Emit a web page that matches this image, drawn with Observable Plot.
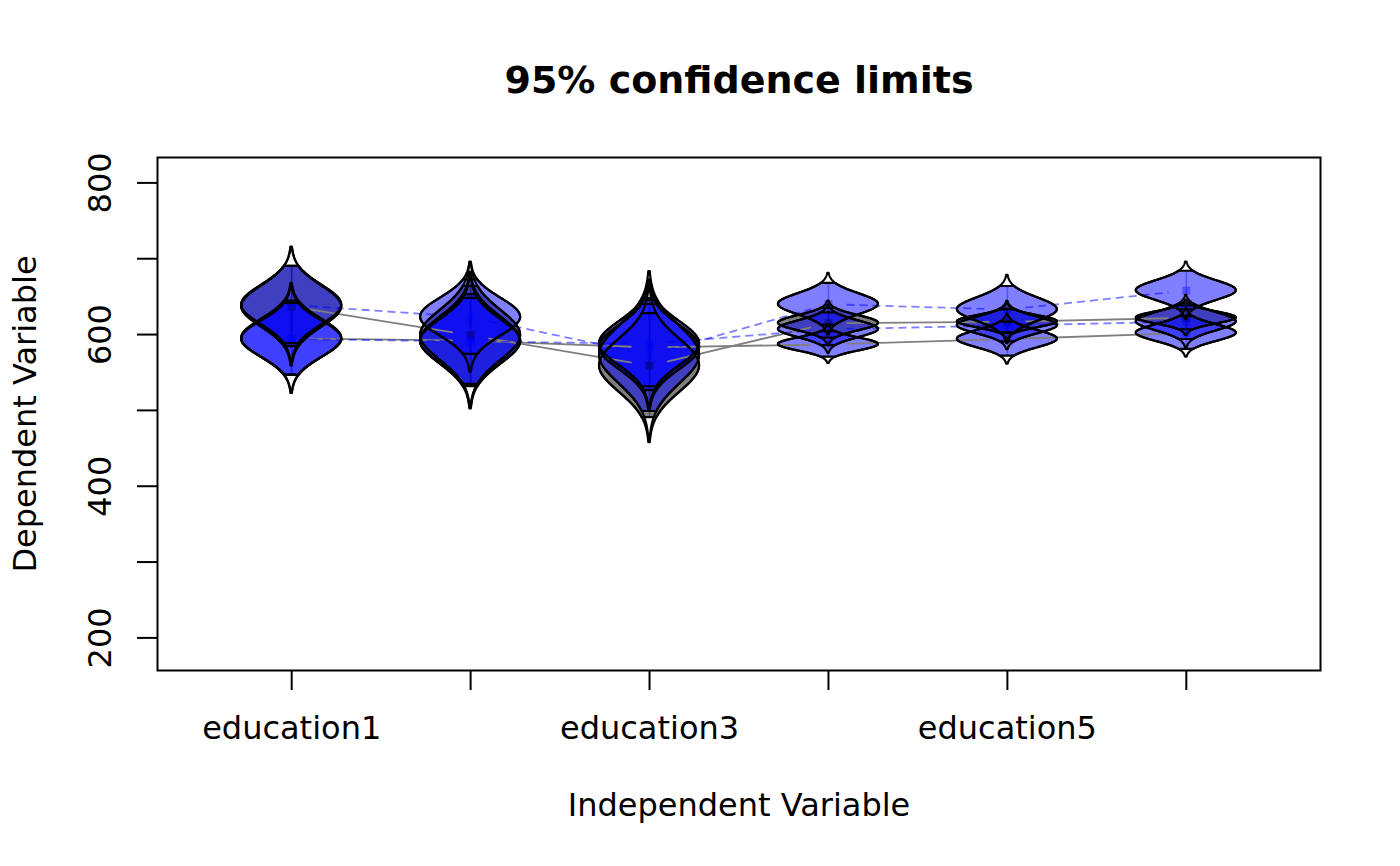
<!DOCTYPE html>
<html>
<head>
<meta charset="utf-8">
<script src="https://cdn.jsdelivr.net/npm/d3@7"></script>
<script src="https://cdn.jsdelivr.net/npm/@observablehq/plot@0.6"></script>
<style>
  html, body { margin: 0; padding: 0; background: #ffffff; }
  svg { display: block; }
</style>
</head>
<body>
<div id="chart"></div>
<script>
// ---------------- data ----------------
const categories   = ["education1", "education2", "education3", "education4", "education5", "education6"];
const xTickLabels  = ["education1", "", "education3", "", "education5", ""];
const yTicks       = [200, 300, 400, 500, 600, 700, 800];
const yTickLabels  = [200, 400, 600, 800];

// solid grey line, grey eyes
const greyAMean = [637, 599, 559, 615, 617, 622];
const greyASE   = [27, 33, 35, 10, 8, 8];
// solid grey line, blue eyes
const greyBMean = [595, 592, 583, 587, 594, 602];
const greyBSE   = [25, 31, 29, 8.6, 11.4, 11];
// dashed blue line, blue eyes (upper)
const blueAMean = [639, 623, 573, 640, 633, 658];
const blueASE   = [26, 25, 38, 14, 15.5, 13];
// dashed blue line, blue eyes (lower)
const blueBMean = [594, 591, 588, 607, 612, 617];
const blueBSE   = [24, 29, 29, 11, 11, 12];

const titleText = "95% confidence limits";
const xTitle = "Independent Variable";
const yTitle = "Dependent Variable";

// ---------------- layout ----------------
const W = 1400, H = 866;
const mL = 157, mR = 80, mT = 157, mB = 196;
const xDomain = [0.25, 6.75];
const yDomain = [157, 833.5];
const pxX = (W - mL - mR) / (xDomain[1] - xDomain[0]);
const pxY = (H - mT - mB) / (yDomain[1] - yDomain[0]);
const HALF = 50 / pxX;     // half width of every eye, in x units
const TIP = 2.9, CI = 1.96;
const GAP = 18;            // type="b" gap around points, px
const FS = 32;

const series = [
  {name: "ga", mean: greyAMean, se: greyASE, fill: "#000000", fillOpacity: 0.5, line: "#7f7f7f", lineOpacity: 1, dash: null},
  {name: "gb", mean: greyBMean, se: greyBSE, fill: "#0000ff", fillOpacity: 0.5, line: "#7f7f7f", lineOpacity: 1, dash: null},
  {name: "ba", mean: blueAMean, se: blueASE, fill: "#0000ff", fillOpacity: 0.5, line: "#0000ff", lineOpacity: 0.5, dash: "8,5"},
  {name: "bb", mean: blueBMean, se: blueBSE, fill: "#0000ff", fillOpacity: 0.5, line: "#0000ff", lineOpacity: 0.5, dash: "8,5"}
];

function eyeRows(s, k) {
  const rows = [];
  const n = 160;
  s.mean.forEach((m, i) => {
    const se = s.se[i];
    for (let j = 0; j <= n; j++) {
      const z = -k + 2 * k * j / n;
      rows.push({key: s.name + i, cx: i + 1, y: m + z * se, w: HALF * Math.exp(-z * z / 2)});
    }
  });
  return rows;
}

function segments(s) {
  const out = [];
  for (let i = 0; i < s.mean.length - 1; i++) {
    const dv = s.mean[i + 1] - s.mean[i];
    const L = Math.hypot(pxX, dv * pxY);
    const t = GAP / L;
    out.push({x1: i + 1 + t, y1: s.mean[i] + t * dv, x2: i + 2 - t, y2: s.mean[i + 1] - t * dv});
  }
  return out;
}

const areaOpts = {y: "y", x1: d => d.cx - d.w, x2: d => d.cx + d.w, z: "key"};

const marks = [];
// shaded 95% regions
series.forEach(s => marks.push(Plot.areaX(eyeRows(s, CI), {...areaOpts, fill: s.fill, fillOpacity: s.fillOpacity})));
// connecting lines (with gaps like type="b")
series.forEach(s => marks.push(Plot.link(segments(s), {
  x1: "x1", y1: "y1", x2: "x2", y2: "y2",
  stroke: s.line, strokeOpacity: s.lineOpacity, strokeWidth: 1.8,
  strokeDasharray: s.dash || undefined
})));
// central error lines & points
series.forEach(s => {
  const pts = s.mean.map((m, i) => ({x: i + 1, y: m, lo: m - CI * s.se[i], hi: m + CI * s.se[i]}));
  marks.push(Plot.ruleX(pts, {x: "x", y1: "lo", y2: "hi", stroke: s.fill, strokeOpacity: 0.35, strokeWidth: 1.5}));
  marks.push(Plot.dot(pts, {x: "x", y: "y", symbol: "square", r: 4.5, fill: s.fill, fillOpacity: 0.35, stroke: "none"}));
});
// black outlines
series.forEach(s => {
  marks.push(Plot.areaX(eyeRows(s, TIP), {...areaOpts, fill: "none", stroke: "black", strokeWidth: 2.2}));
  marks.push(Plot.areaX(eyeRows(s, CI), {...areaOpts, fill: "none", stroke: "black", strokeWidth: 2.2}));
});

// axes
marks.push(Plot.axisX({ticks: categories.map((c, i) => i + 1), tickSize: 20, tickFormat: () => "", label: null, strokeWidth: 2}));
marks.push(Plot.axisY({ticks: yTicks, tickSize: 20, tickFormat: () => "", label: null, strokeWidth: 2}));
marks.push(Plot.text(categories.map((c, i) => ({x: i + 1, t: xTickLabels[i]})).filter(d => d.t), {
  x: "x", text: "t", frameAnchor: "bottom", dy: 58, textAnchor: "middle", lineAnchor: "middle", fontSize: FS, fill: "black"
}));
marks.push(Plot.text(yTickLabels, {
  y: d => d, text: d => String(d), frameAnchor: "left", dx: -57, rotate: -90,
  textAnchor: "middle", lineAnchor: "middle", fontSize: FS, fill: "black"
}));
marks.push(Plot.text([xTitle], {text: d => d, frameAnchor: "bottom", dy: 135, textAnchor: "middle", lineAnchor: "middle", fontSize: FS, fill: "black"}));
marks.push(Plot.text([yTitle], {text: d => d, frameAnchor: "left", dx: -132, rotate: -90, textAnchor: "middle", lineAnchor: "middle", fontSize: FS, fill: "black"}));
marks.push(Plot.text([titleText], {text: d => d, frameAnchor: "top", dy: -77, textAnchor: "middle", lineAnchor: "middle", fontSize: 38, fontWeight: "bold", fill: "black"}));
marks.push(Plot.frame({stroke: "black", strokeWidth: 2}));

const chart = Plot.plot({
  width: W, height: H,
  marginLeft: mL, marginRight: mR, marginTop: mT, marginBottom: mB,
  x: {type: "linear", domain: xDomain},
  y: {type: "linear", domain: yDomain},
  style: {fontFamily: "DejaVu Sans", fontSize: "32px", background: "#ffffff", color: "black"},
  marks
});
document.getElementById("chart").appendChild(chart);
</script>
</body>
</html>
